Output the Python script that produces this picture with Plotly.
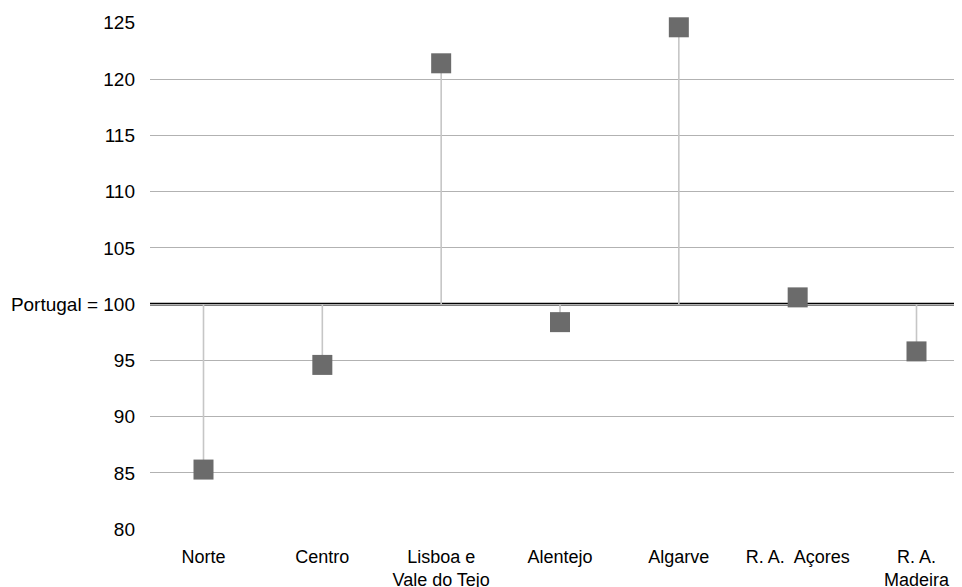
import plotly.graph_objects as go

regions = ["Norte", "Centro", "Lisboa e<br>Vale do Tejo", "Alentejo", "Algarve",
           "R. A.\u00a0 Açores", "R. A.<br>Madeira"]
values = [85.3, 94.6, 121.4, 98.4, 124.6, 100.6, 95.8]
baseline = 100
y_ticks = [80, 85, 90, 95, 100, 105, 110, 115, 120, 125]
y_ticktext = ["80", "85", "90", "95", "Portugal = 100", "105", "110", "115", "120", "125"]

family = "Liberation Sans, Arial, sans-serif"
yfont = dict(family=family, size=19, color="#000000")
xfont = dict(family=family, size=18, color="#000000")

stem_x, stem_y = [], []
for r, v in zip(regions, values):
    stem_x += [r, r, None]
    stem_y += [baseline, v, None]

fig = go.Figure()
fig.add_trace(go.Scatter(x=stem_x, y=stem_y, mode="lines",
                         line=dict(color="#c6c6c6", width=1.6),
                         hoverinfo="skip", showlegend=False))
fig.add_trace(go.Scatter(x=regions, y=values, mode="markers",
                         marker=dict(symbol="square", size=20, color="#6b6b6b",
                                     line=dict(width=0)),
                         cliponaxis=False, showlegend=False))

fig.add_shape(type="line", xref="paper", x0=0, x1=1, yref="y", y0=baseline, y1=baseline,
              line=dict(color="#000000", width=2.7), layer="between")

fig.update_layout(
    width=962, height=587,
    margin=dict(l=142, r=0, t=14, b=65, autoexpand=False),
    paper_bgcolor="white", plot_bgcolor="white",
    font=yfont, showlegend=False,
)
fig.update_xaxes(type="category", showgrid=False, showline=False, zeroline=False,
                 ticks="", tickfont=xfont, ticklabelstandoff=14, tickangle=0,
                 automargin=False)
fig.update_yaxes(range=[79.93, 125.07], tickvals=y_ticks, ticktext=y_ticktext,
                 showgrid=True, gridcolor="#b2b2b2", gridwidth=1.3,
                 zeroline=False, showline=False, ticks="", tickfont=yfont,
                 ticklabelstandoff=14, automargin=False)

fig.write_html("out.html")
